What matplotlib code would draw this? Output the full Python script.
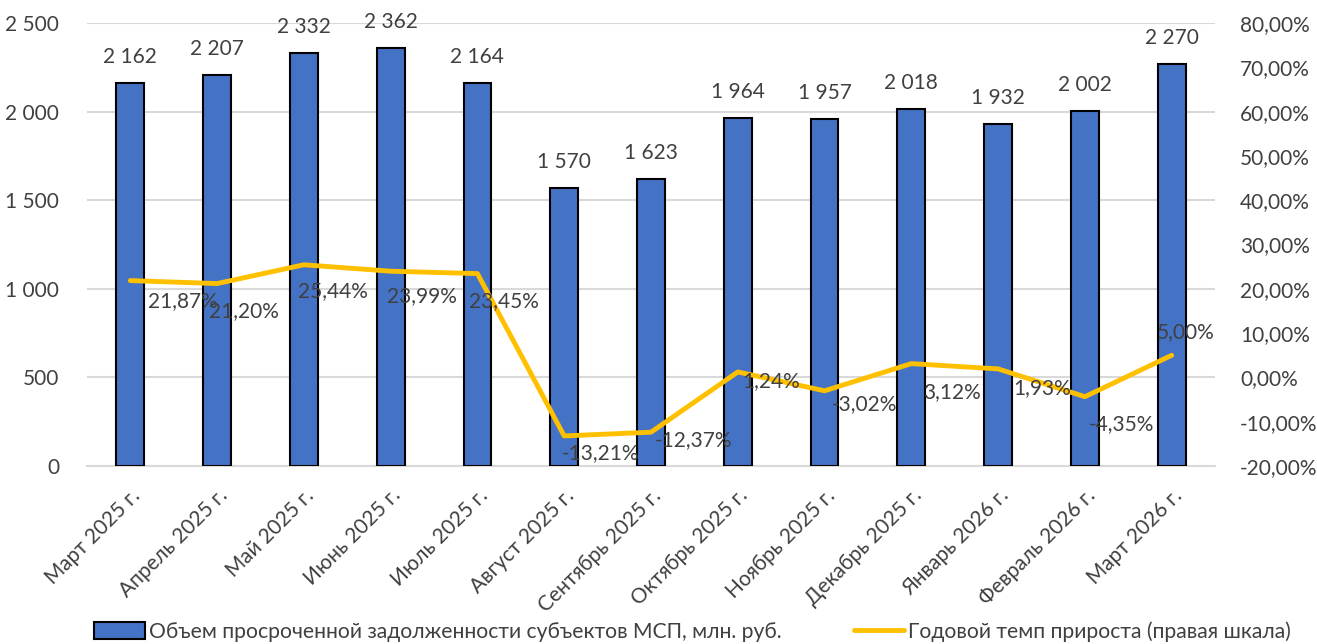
import matplotlib.pyplot as plt
from matplotlib.ticker import FuncFormatter, MultipleLocator

months = ["Март 2025 г.", "Апрель 2025 г.", "Май 2025 г.", "Июнь 2025 г.", "Июль 2025 г.",
          "Август 2025 г.", "Сентябрь 2025 г.", "Октябрь 2025 г.", "Ноябрь 2025 г.",
          "Декабрь 2025 г.", "Январь 2026 г.", "Февраль 2026 г.", "Март 2026 г."]
volume = [2162, 2207, 2332, 2362, 2164, 1570, 1623, 1964, 1957, 2018, 1932, 2002, 2270]
growth = [21.87, 21.20, 25.44, 23.99, 23.45, -13.21, -12.37, 1.24, -3.02, 3.12, 1.93, -4.35, 5.00]

# label placement of the % labels (pixels from the point, as in the original)
lab_dx = [53, 27, 29, 31, 27, 36, 43, 33, 40, 41, 44, 37, 14]
lab_dy = [-21, -28, -26, -25, -27, -17, -8, -9, -13, -28, -19, -27, 23]

plt.rcParams['font.family'] = ['Lato', 'DejaVu Sans']
txt = "#404040"
fs = 15

fig = plt.figure(figsize=(13.17, 6.44), dpi=100)
ax = fig.add_axes([0.066, 0.2764, 0.8566, 0.6876])
ax2 = ax.twinx()

x = range(len(months))
bars = ax.bar(x, volume, width=0.32, color="#4472C4", edgecolor="black", linewidth=1.5,
              zorder=3, label="Объем просроченной задолженности субъектов МСП, млн. руб.")
ax.set_ylim(0, 2500)
ax.set_xlim(-0.5, len(months) - 0.5)
ax.yaxis.set_major_locator(MultipleLocator(500))
ax.yaxis.set_major_formatter(FuncFormatter(lambda v, p: f"{int(v):,}".replace(",", " ")))
ax.grid(axis="y", color="#d9d9d9", linewidth=1.5, zorder=0)
ax.set_axisbelow(True)
for b, v in zip(bars, volume):
    ax.annotate(f"{v:,}".replace(",", " "), (b.get_x() + b.get_width() / 2, v),
                xytext=(0, 16), textcoords="offset pixels", ha="center", va="bottom",
                fontsize=fs, color=txt)

line, = ax2.plot(x, growth, color="#FFC000", linewidth=3.5, solid_capstyle="round",
                 label="Годовой темп прироста (правая шкала)")
ax2.set_ylim(-20, 80)
ax2.yaxis.set_major_locator(MultipleLocator(10))
ax2.yaxis.set_major_formatter(FuncFormatter(lambda v, p: f"{v:.2f}%".replace(".", ",")))
for i, g in enumerate(growth):
    ax2.annotate(f"{g:.2f}%".replace(".", ","), (i, g), xytext=(lab_dx[i], lab_dy[i]),
                 textcoords="offset pixels", ha="center", va="center", fontsize=fs, color=txt)

ax.set_xticks(list(x))
ax.set_xticklabels(months, rotation=45, ha="right", rotation_mode="anchor", fontsize=fs, color=txt)
ax.tick_params(axis="x", length=0, pad=14)
ax.tick_params(axis="y", length=0, labelsize=fs, labelcolor=txt, pad=20)
ax2.tick_params(axis="y", length=0, labelsize=fs, labelcolor=txt, pad=18)
for a in (ax, ax2):
    for s in a.spines.values():
        s.set_visible(False)
ax.spines["bottom"].set_visible(True)
ax.spines["bottom"].set_color("#d9d9d9")
ax.spines["bottom"].set_linewidth(1.5)

fig.legend(handles=[bars, line], loc="lower center", bbox_to_anchor=(0.526, -0.026), ncol=2,
           frameon=False, fontsize=15.2, labelcolor=txt, handlelength=2.4, handleheight=0.9,
           handletextpad=0.2, columnspacing=3.4)

fig.savefig("out.png", dpi=100)
